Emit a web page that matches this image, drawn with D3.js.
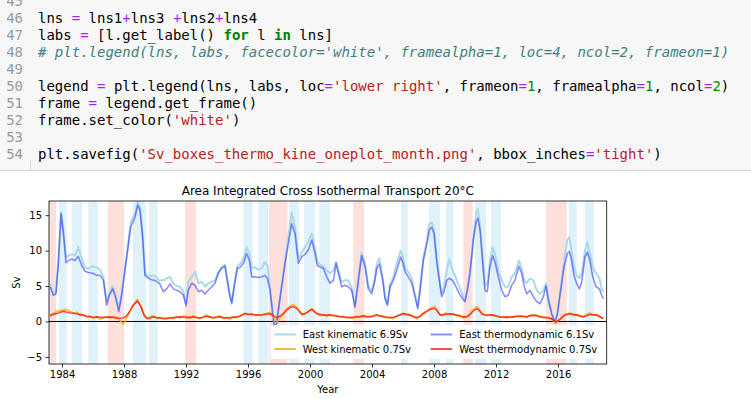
<!DOCTYPE html>
<meta charset="utf-8">
<script src="https://d3js.org/d3.v7.min.js"></script>
<style>
  body { margin: 0; background: #fff; }
  text { white-space: pre; }
</style>
<div id="my_dataviz"></div>
<script>

// ---- data ----
// shared time axis for the two East series (decimal years)
var eastDates = [1983.23,1983.35,1983.44,1983.61,1983.76,1983.94,1984.09,1984.26,1984.41,1984.62,1984.84,1985.05,1985.27,1985.48,1985.70,1985.98,1986.24,1986.45,1986.67,1986.88,
  1987.05,1987.27,1987.48,1987.66,1987.85,1988.06,1988.28,1988.43,1988.71,1988.88,1989.03,1989.20,1989.35,1989.57,1989.78,1990.00,1990.28,1990.54,1990.75,1990.97,
  1991.18,1991.40,1991.61,1991.83,1992.00,1992.15,1992.37,1992.58,1992.80,1993.01,1993.23,1993.44,1993.66,1993.87,1994.09,1994.30,1994.52,1994.62,1994.80,1994.95,
  1995.12,1995.31,1995.53,1995.74,1995.91,1996.09,1996.24,1996.45,1996.67,1996.88,1997.10,1997.25,1997.42,1997.59,1997.70,1997.81,1997.96,1998.17,1998.39,1998.60,
  1998.82,1999.03,1999.25,1999.46,1999.68,1999.89,2000.11,2000.32,2000.47,2000.65,2000.86,2001.08,2001.29,2001.51,2001.68,2001.83,2002.04,2002.26,2002.47,2002.69,
  2002.90,2003.12,2003.33,2003.55,2003.76,2003.98,2004.19,2004.30,2004.47,2004.69,2004.84,2004.99,2005.16,2005.38,2005.59,2005.85,2005.98,2006.13,2006.34,2006.56,
  2006.77,2006.95,2007.10,2007.31,2007.53,2007.70,2007.85,2008.00,2008.17,2008.34,2008.49,2008.64,2008.82,2008.99,2009.20,2009.42,2009.63,2009.85,2010.00,2010.15,
  2010.32,2010.54,2010.71,2010.82,2010.97,2011.14,2011.29,2011.44,2011.61,2011.78,2011.93,2012.15,2012.37,2012.58,2012.79,2013.01,2013.22,2013.48,2013.65,2013.83,
  2013.98,2014.19,2014.41,2014.62,2014.84,2015.05,2015.23,2015.38,2015.59,2015.81,2015.96,2016.17,2016.39,2016.60,2016.73,2016.88,2017.03,2017.20,2017.38,2017.53,
  2017.74,2017.89,2018.06,2018.24,2018.45,2018.67,2018.82,2018.92]

var eastThermo = [4.9,4.2,3.7,3.9,8.2,15.2,12.4,8.3,8.6,8.8,8.6,9.2,7.9,7.1,6.9,6.8,6.5,6.5,5.8,2.3,
  3.7,4.6,3.2,1.4,3.7,7.2,10.8,13.3,14.7,16.4,15.7,11.9,6.5,6.1,5.9,5.8,5.4,4.2,4.6,5.3,
  4.6,4.4,4.2,3.7,2.2,4.4,5.4,5.1,4.2,4.4,3.9,4.4,4.9,5.4,6.8,7.5,7.8,6.3,3.9,2.5,
  5.1,7.5,7.7,8.4,9.6,8.6,6.3,6.3,6.2,6.3,6.5,6.1,4.4,1.1,-0.75,-0.85,1.6,4.9,8.2,11.0,
  13.8,12.4,8.2,9.1,9.5,10.1,11.5,9.6,7.9,7.7,7.5,6.3,5.4,5.8,8.2,6.8,4.9,5.1,4.9,4.4,
  2.0,5.8,9.3,7.7,4.6,3.9,5.8,7.5,8.1,5.8,3.2,2.3,4.9,5.8,7.2,9.1,8.4,7.0,6.3,5.4,
  3.5,1.8,4.4,8.6,10.8,12.9,13.3,12.4,8.6,5.8,3.5,4.2,5.8,6.1,5.8,4.9,3.9,3.2,2.8,4.4,
  6.8,11.5,14.0,14.6,12.9,8.2,4.4,4.2,7.7,9.3,8.4,6.3,4.4,3.5,3.7,5.1,5.8,7.8,6.8,4.9,
  3.9,4.4,3.5,2.8,2.5,3.5,5.0,3.0,1.1,-0.2,1.1,4.4,7.7,9.6,9.9,8.6,6.5,5.4,4.6,5.6,
  9.1,9.8,8.6,6.3,4.9,4.6,3.7,3.2]

var eastKin = [5.4,4.6,3.9,4.2,8.5,15.4,12.8,9.0,9.3,9.5,9.3,10.5,8.9,7.6,7.5,7.8,7.6,7.3,6.3,2.8,
  4.0,5.0,3.6,1.8,4.0,7.6,11.3,14.0,15.2,16.9,16.2,12.3,6.8,6.3,6.5,6.4,5.8,5.8,6.1,6.3,
  5.4,5.0,4.9,4.2,2.6,5.6,6.3,7.0,5.4,5.6,4.9,5.4,5.6,5.8,7.0,7.7,8.0,6.5,4.1,2.7,
  5.3,7.8,8.2,9.1,10.5,9.6,7.6,7.6,7.3,7.5,8.4,7.9,4.8,1.3,-0.6,-0.7,1.8,5.1,8.6,12.0,
  15.4,13.3,8.9,9.7,10.5,11.2,12.4,10.4,8.4,8.0,7.8,7.2,6.8,7.2,8.4,7.2,5.6,5.8,5.8,4.8,
  2.3,6.1,9.7,8.2,5.0,4.3,6.2,8.0,8.9,6.3,3.5,2.5,5.2,6.3,8.2,10.0,9.2,7.5,7.0,6.1,
  3.9,2.1,4.7,9.0,11.4,13.8,14.0,13.0,9.0,6.2,4.0,4.9,7.2,8.8,7.2,6.1,4.9,3.7,3.1,4.6,
  7.1,12.0,15.2,15.9,13.6,9.0,5.0,5.4,8.6,10.5,9.5,7.2,5.8,4.9,4.9,6.3,6.8,8.6,7.6,5.8,
  5.4,6.1,5.8,4.4,3.9,4.4,5.4,3.2,1.2,-0.1,1.2,4.7,8.6,11.5,11.9,9.8,7.7,6.5,6.1,6.8,
  10.0,11.2,9.6,7.7,6.8,6.1,4.6,4.2]

// shared time axis for the two West series (decimal years)
var westDates = [1983.23,1983.45,1983.76,1984.09,1984.30,1984.52,1984.75,1984.95,1985.17,1985.38,1985.60,1985.81,1986.03,1986.24,1986.45,1986.67,1986.88,1987.10,1987.31,1987.53,
  1987.75,1987.96,1988.10,1988.28,1988.45,1988.60,1988.86,1989.08,1989.29,1989.45,1989.57,1989.89,1990.10,1990.32,1990.54,1990.75,1990.97,1991.18,1991.40,1991.61,
  1991.83,1992.04,1992.26,1992.47,1992.69,1992.90,1993.12,1993.33,1993.55,1993.76,1993.98,1994.19,1994.40,1994.62,1994.83,1995.05,1995.26,1995.48,1995.66,1995.81,
  1996.03,1996.24,1996.45,1996.67,1996.88,1997.10,1997.26,1997.42,1997.58,1997.74,1997.90,1998.07,1998.28,1998.44,1998.60,1998.76,1998.92,1999.10,1999.25,1999.46,
  1999.62,1999.78,1999.95,2000.11,2000.27,2000.43,2000.64,2000.86,2001.07,2001.29,2001.50,2001.72,2001.93,2002.15,2002.36,2002.58,2002.79,2003.01,2003.22,2003.44,
  2003.66,2003.87,2004.09,2004.30,2004.52,2004.73,2004.95,2005.16,2005.38,2005.59,2005.81,2006.02,2006.24,2006.45,2006.67,2006.88,2007.10,2007.31,2007.52,2007.74,
  2007.90,2008.06,2008.22,2008.39,2008.55,2008.71,2009.03,2009.25,2009.46,2009.68,2009.89,2010.05,2010.21,2010.38,2010.54,2010.70,2010.80,2010.94,2011.07,2011.23,
  2011.40,2011.61,2011.83,2012.04,2012.26,2012.47,2012.69,2012.90,2013.12,2013.33,2013.55,2013.76,2013.98,2014.19,2014.41,2014.62,2014.84,2015.05,2015.27,2015.43,
  2015.59,2015.73,2015.87,2016.00,2016.13,2016.29,2016.45,2016.61,2016.77,2016.98,2017.20,2017.41,2017.63,2017.84,2018.06,2018.27,2018.49,2018.70,2018.92]

var westThermo = [0.9,1.0,1.2,1.45,1.3,1.2,1.15,1.1,1.0,0.9,0.75,0.65,0.6,0.65,0.6,0.55,0.6,0.65,0.55,0.5,
  0.45,0.5,0.7,1.1,1.7,2.3,2.9,2.1,0.9,0.5,0.4,0.65,0.55,0.5,0.45,0.4,0.5,0.55,0.6,0.65,
  0.6,0.55,0.6,0.65,0.55,0.5,0.6,0.75,0.65,0.55,0.6,0.65,0.55,0.5,0.55,0.6,0.65,0.75,0.95,1.1,
  1.05,1.0,0.95,0.9,0.95,1.0,1.05,1.1,0.9,0.65,0.55,0.8,1.1,1.5,1.8,2.0,2.1,1.9,1.6,1.0,
  1.1,1.2,1.5,1.7,1.4,1.1,1.0,0.9,0.9,0.9,0.8,0.75,0.7,0.65,0.6,0.55,0.6,0.65,0.7,0.75,
  0.7,0.65,0.75,0.9,0.8,0.65,0.6,0.55,0.6,0.75,0.9,1.1,1.0,0.9,0.7,0.55,0.7,1.1,1.4,1.7,
  1.8,1.85,1.4,0.9,0.95,1.0,1.1,1.0,0.9,0.75,0.65,0.65,0.75,1.1,1.5,1.75,1.8,1.5,1.1,0.95,
  0.9,0.95,0.9,0.75,0.65,0.6,0.65,0.6,0.65,0.7,0.75,0.7,0.65,0.8,0.9,0.8,0.65,0.6,0.55,0.5,
  0.4,0.15,-0.05,0.1,0.3,0.6,0.9,1.0,1.1,1.0,0.9,0.8,0.65,0.8,1.0,0.95,0.9,0.7,0.4]

var westKin = [0.7,1.2,1.5,1.6,1.7,1.4,1.2,1.3,0.8,0.9,0.6,0.8,0.4,0.7,0.3,0.6,0.7,0.5,0.7,0.6,
  0.1,-0.4,0.2,1.0,1.8,2.4,3.1,2.3,1.0,0.4,0.6,0.8,0.4,0.6,0.3,0.5,0.6,0.4,0.7,0.5,
  0.8,0.7,0.4,0.8,0.6,0.4,0.7,0.9,0.6,0.4,0.7,0.8,0.4,0.6,0.3,0.7,0.5,0.8,1.0,1.2,
  0.9,1.1,0.8,1.0,0.8,1.1,1.2,1.3,0.8,0.3,0.0,0.5,1.1,1.6,2.0,2.2,2.4,2.1,1.7,1.1,
  1.0,1.3,1.6,1.8,1.5,1.2,0.8,1.0,0.7,1.0,0.9,0.8,0.6,0.7,0.5,0.6,0.4,0.7,0.6,0.9,
  0.6,0.7,0.8,1.0,0.7,0.8,0.5,0.6,0.4,0.8,1.0,1.2,0.9,1.0,0.6,0.4,0.8,1.2,1.5,1.8,
  2.0,2.1,1.6,1.0,0.8,1.2,1.0,1.1,0.8,0.9,0.5,0.7,0.9,1.3,1.7,2.0,2.1,1.7,1.3,1.0,
  0.8,1.0,0.8,0.8,0.6,0.7,0.5,0.7,0.6,0.8,0.7,0.8,0.6,0.9,0.8,0.9,0.7,0.5,0.6,0.4,
  0.3,0.0,-0.2,0.0,0.4,0.7,1.0,1.1,1.2,0.9,1.0,0.7,0.7,1.0,1.2,0.9,1.0,0.6,0.4]

// ENSO shading periods [start, end] in decimal years
var elNinoSpans = [[1983.15,1983.61],[1986.97,1988.00],[1991.94,1992.65],[1997.37,1998.54],[2002.79,2003.48],[2009.89,2010.50],[2015.23,2016.56]]
var laNinaSpans = [[1983.81,1984.30],[1984.63,1985.31],[1985.70,1986.30],[1988.58,1989.40],[1989.61,1990.17],[1995.70,1996.30],[1996.66,1997.31],
  [1998.65,1999.29],[1999.61,2000.32],[2000.60,2001.29],[2005.87,2006.30],[2007.68,2008.39],[2008.77,2009.25],[2010.65,2011.35],[2011.68,2012.32],
  [2016.71,2017.21],[2017.74,2018.32]]

var xTicks = [1984, 1988, 1992, 1996, 2000, 2004, 2008, 2012, 2016]
var yTicks = [-5, 0, 5, 10, 15]

var seriesLabels = ["East kinematic 6.9Sv", "East thermodynamic 6.1Sv", "West kinematic 0.7Sv", "West thermodynamic 0.7Sv"]

// ---- page ----
var width = 751, height = 399

var svg = d3.select("#my_dataviz")
  .append("svg")
    .attr("width", width)
    .attr("height", height)
    .style("display", "block")

// ---- notebook code cell ----
var mono = "'DejaVu Sans Mono', 'Liberation Mono', monospace"
var cell = svg.append("g")
cell.append("rect").attr("x", 0).attr("y", 0).attr("width", width).attr("height", 170).attr("fill", "#f7f7f7")
cell.append("line").attr("x1", 0).attr("x2", width).attr("y1", 170.5).attr("y2", 170.5).attr("stroke", "#cfcfcf")
cell.append("line").attr("x1", 30.5).attr("x2", 30.5).attr("y1", 160).attr("y2", 170).attr("stroke", "#dddddd")

var P = "#aa22ff", K = "#008000", C = "#408080", S = "#ba2121", N = "#008800", T = "#000"
var codeLines = [
  [45, []],
  [46, [["lns ", T], ["=", P], [" lns1", T], ["+", P], ["lns3 ", T], ["+", P], ["lns2", T], ["+", P], ["lns4", T]]],
  [47, [["labs ", T], ["=", P], [" [l.get_label() ", T], ["for", K, "bold"], [" l ", T], ["in", K, "bold"], [" lns]", T]]],
  [48, [["# plt.legend(lns, labs, facecolor='white', framealpha=1, loc=4, ncol=2, frameon=1)", C, "italic"]]],
  [49, []],
  [50, [["legend ", T], ["=", P], [" plt.legend(lns, labs, loc", T], ["=", P], ["'lower right'", S], [", frameon", T], ["=", P], ["1", N],
        [", framealpha", T], ["=", P], ["1", N], [", ncol", T], ["=", P], ["2", N], [")", T]]],
  [51, [["frame ", T], ["=", P], [" legend.get_frame()", T]]],
  [52, [["frame.set_color(", T], ["'white'", S], [")", T]]],
  [53, []],
  [54, [["plt.savefig(", T], ["'Sv_boxes_thermo_kine_oneplot_month.png'", S], [", bbox_inches", T], ["=", P], ["'tight'", S], [")", T]]]
]

codeLines.forEach(function(line, i) {
  var baseline = 6 + i * 17
  cell.append("text")
    .attr("x", 23).attr("y", baseline)
    .attr("text-anchor", "end")
    .style("font-family", mono).style("font-size", "14px")
    .attr("fill", "#999")
    .text(line[0])
  var t = cell.append("text")
    .attr("x", 38).attr("y", baseline)
    .style("font-family", mono).style("font-size", "14px")
  line[1].forEach(function(tok) {
    var s = t.append("tspan").text(tok[0]).attr("fill", tok[1])
    if (tok[2] === "bold") s.attr("font-weight", "bold")
    if (tok[2] === "italic") s.attr("font-style", "italic")
  })
})

// ---- chart ----
var plot = { left: 49, right: 606.7, top: 201, bottom: 364 }
var sans = "'DejaVu Sans', sans-serif"

var x = d3.scaleLinear().domain([1983.16, 2019.14]).range([plot.left, plot.right])
var y = d3.scaleLinear().domain([-6, 17]).range([plot.bottom, plot.top])

var chart = svg.append("g")

chart.append("clipPath").attr("id", "clip")
  .append("rect")
    .attr("x", plot.left).attr("y", plot.top)
    .attr("width", plot.right - plot.left).attr("height", plot.bottom - plot.top)

var body = chart.append("g").attr("clip-path", "url(#clip)")

// shaded ENSO periods
body.selectAll("rect.nino").data(elNinoSpans).enter().append("rect")
  .attr("class", "nino")
  .attr("x", function(d) { return x(d[0]) })
  .attr("width", function(d) { return x(d[1]) - x(d[0]) })
  .attr("y", plot.top).attr("height", plot.bottom - plot.top)
  .attr("fill", "#fddfdb")
body.selectAll("rect.nina").data(laNinaSpans).enter().append("rect")
  .attr("class", "nina")
  .attr("x", function(d) { return x(d[0]) })
  .attr("width", function(d) { return x(d[1]) - x(d[0]) })
  .attr("y", plot.top).attr("height", plot.bottom - plot.top)
  .attr("fill", "#dff1fb")

// zero line
body.append("line")
  .attr("x1", plot.left).attr("x2", plot.right)
  .attr("y1", y(0)).attr("y2", y(0))
  .attr("stroke", "#000").attr("stroke-width", 1)

var series = [
  { label: seriesLabels[0], dates: eastDates, values: eastKin,    color: "lightblue", opacity: 1,    width: 2 },
  { label: seriesLabels[1], dates: eastDates, values: eastThermo, color: "blue",      opacity: 0.45, width: 1.6 },
  { label: seriesLabels[2], dates: westDates, values: westKin,    color: "orange",    opacity: 0.8,  width: 1.6 },
  { label: seriesLabels[3], dates: westDates, values: westThermo, color: "red",       opacity: 0.7,  width: 1.6 }
]

var line = d3.line()
  .x(function(d) { return x(d[0]) })
  .y(function(d) { return y(d[1]) })

series.forEach(function(s) {
  body.append("path")
    .datum(d3.zip(s.dates, s.values))
    .attr("d", line)
    .attr("fill", "none")
    .attr("stroke", s.color)
    .attr("stroke-opacity", s.opacity)
    .attr("stroke-width", s.width)
    .attr("stroke-linejoin", "round")
})

// axes
var xAxis = chart.append("g")
  .attr("transform", "translate(0," + plot.bottom + ")")
  .call(d3.axisBottom(x).tickValues(xTicks).tickFormat(d3.format("d")).tickSize(3.5).tickPadding(3.5))
var yAxis = chart.append("g")
  .attr("transform", "translate(" + plot.left + ",0)")
  .call(d3.axisLeft(y).tickValues(yTicks).tickSize(3.5).tickPadding(3.5))

;[xAxis, yAxis].forEach(function(a) {
  a.select(".domain").remove()
  a.selectAll("line").attr("stroke", "#000").attr("stroke-width", 0.8)
  a.selectAll("text").attr("fill", "#000").style("font-family", sans).style("font-size", "10px")
})

// legend (lower right, white frame, two columns)
var lg = chart.append("g")
lg.append("rect")
  .attr("x", 270.7).attr("y", 325).attr("width", 331).attr("height", 34)
  .attr("rx", 2).attr("fill", "#fff")
var legendOrder = [0, 2, 1, 3]   // lns1 + lns3 + lns2 + lns4, filled column by column
legendOrder.forEach(function(si, k) {
  var s = series[si]
  var col = Math.floor(k / 2), row = k % 2
  var lx = col === 0 ? 274.3 : 430.7
  var ly = 334.5 + row * 14.5
  lg.append("line")
    .attr("x1", lx).attr("x2", lx + 21.5).attr("y1", ly).attr("y2", ly)
    .attr("stroke", s.color).attr("stroke-opacity", s.opacity).attr("stroke-width", 2)
  lg.append("text")
    .attr("x", lx + 28.5).attr("y", ly).attr("dy", "0.35em")
    .style("font-family", sans).style("font-size", "10px")
    .attr("fill", "#000")
    .text(s.label)
})

// frame
chart.append("rect")
  .attr("x", plot.left).attr("y", plot.top)
  .attr("width", plot.right - plot.left).attr("height", plot.bottom - plot.top)
  .attr("fill", "none").attr("stroke", "#000").attr("stroke-width", 0.8)

// title and axis labels
chart.append("text")
  .attr("x", (plot.left + plot.right) / 2).attr("y", 195)
  .attr("text-anchor", "middle")
  .style("font-family", sans).style("font-size", "12px")
  .text("Area Integrated Cross Isothermal Transport 20°C")
chart.append("text")
  .attr("x", (plot.left + plot.right) / 2).attr("y", 393)
  .attr("text-anchor", "middle")
  .style("font-family", sans).style("font-size", "10px")
  .text("Year")
chart.append("text")
  .attr("transform", "translate(20," + (plot.top + plot.bottom) / 2 + ") rotate(-90)")
  .attr("text-anchor", "middle")
  .style("font-family", sans).style("font-size", "10px")
  .text("Sv")

</script>
